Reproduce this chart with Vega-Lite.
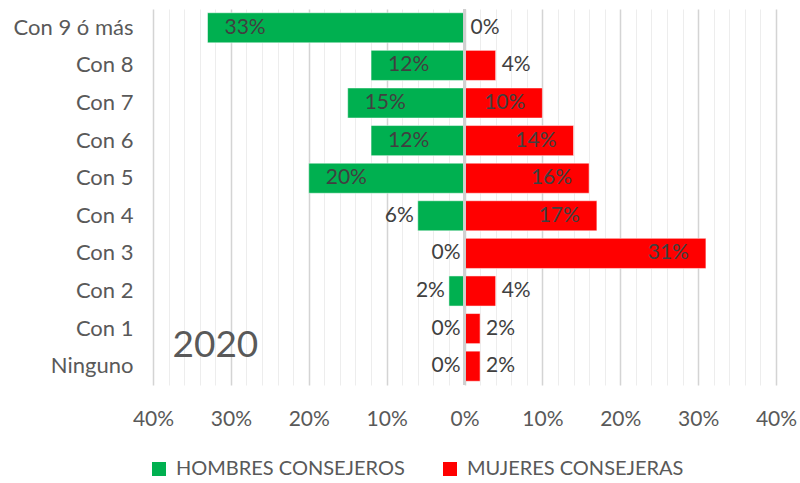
{
  "$schema": "https://vega.github.io/schema/vega-lite/v6.json",
  "width": 623,
  "height": 376,
  "autosize": {"type": "none"},
  "padding": {"left": 153, "top": 9, "right": 24, "bottom": 98},
  "background": "white",
  "config": {"view": {"stroke": null}, "font": "Lato"},
  "data": {
    "values": [
      {"cat": "Con 9 ó más", "sexo": "HOMBRES CONSEJEROS", "v": -0.33},
      {"cat": "Con 8", "sexo": "HOMBRES CONSEJEROS", "v": -0.12},
      {"cat": "Con 7", "sexo": "HOMBRES CONSEJEROS", "v": -0.15},
      {"cat": "Con 6", "sexo": "HOMBRES CONSEJEROS", "v": -0.12},
      {"cat": "Con 5", "sexo": "HOMBRES CONSEJEROS", "v": -0.20},
      {"cat": "Con 4", "sexo": "HOMBRES CONSEJEROS", "v": -0.06},
      {"cat": "Con 3", "sexo": "HOMBRES CONSEJEROS", "v": 0},
      {"cat": "Con 2", "sexo": "HOMBRES CONSEJEROS", "v": -0.02},
      {"cat": "Con 1", "sexo": "HOMBRES CONSEJEROS", "v": 0},
      {"cat": "Ninguno", "sexo": "HOMBRES CONSEJEROS", "v": 0},
      {"cat": "Con 9 ó más", "sexo": "MUJERES CONSEJERAS", "v": 0},
      {"cat": "Con 8", "sexo": "MUJERES CONSEJERAS", "v": 0.04},
      {"cat": "Con 7", "sexo": "MUJERES CONSEJERAS", "v": 0.10},
      {"cat": "Con 6", "sexo": "MUJERES CONSEJERAS", "v": 0.14},
      {"cat": "Con 5", "sexo": "MUJERES CONSEJERAS", "v": 0.16},
      {"cat": "Con 4", "sexo": "MUJERES CONSEJERAS", "v": 0.17},
      {"cat": "Con 3", "sexo": "MUJERES CONSEJERAS", "v": 0.31},
      {"cat": "Con 2", "sexo": "MUJERES CONSEJERAS", "v": 0.04},
      {"cat": "Con 1", "sexo": "MUJERES CONSEJERAS", "v": 0.02},
      {"cat": "Ninguno", "sexo": "MUJERES CONSEJERAS", "v": 0.02}
    ]
  },
  "layer": [
    {
      "transform": [{"calculate": "format(abs(datum.v), '.0%')", "as": "lab"}],
      "encoding": {
        "y": {
          "field": "cat",
          "type": "nominal",
          "sort": ["Con 9 ó más", "Con 8", "Con 7", "Con 6", "Con 5", "Con 4", "Con 3", "Con 2", "Con 1", "Ninguno"],
          "scale": {"paddingInner": 0.2, "paddingOuter": 0.1},
          "axis": {
            "title": null,
            "ticks": false,
            "domain": false,
            "labelPadding": 20,
            "labelFontSize": 22,
            "labelColor": "#595959",
            "labelFont": "Lato",
            "labelLimit": 300
          }
        },
        "x": {
          "field": "v",
          "type": "quantitative",
          "scale": {"domain": [-0.4, 0.4], "nice": false, "zero": false},
          "axis": {
            "title": null,
            "values": [-0.4, -0.38, -0.36, -0.34, -0.32, -0.3, -0.28, -0.26, -0.24, -0.22, -0.2, -0.18, -0.16, -0.14, -0.12, -0.1, -0.08, -0.06, -0.04, -0.02, 0, 0.02, 0.04, 0.06, 0.08, 0.1, 0.12, 0.14, 0.16, 0.18, 0.2, 0.22, 0.24, 0.26, 0.28, 0.3, 0.32, 0.34, 0.36, 0.38, 0.4],
            "tickCount": 200,
            "labelExpr": "abs(round(datum.value*100)) % 10 == 0 ? format(abs(datum.value), '.0%') : ''",
            "ticks": false,
            "domain": false,
            "labelPadding": 23,
            "labelFontSize": 21,
            "labelColor": "#595959",
            "labelFont": "Lato",
            "labelOverlap": false,
            "labelFlush": false,
            "grid": true,
            "gridColor": {"condition": {"test": "abs(round(datum.value*100)) % 10 == 0", "value": "#D4D4D4"}, "value": "#EDEDED"},
            "gridWidth": {"condition": {"test": "abs(round(datum.value*100)) % 10 == 0", "value": 1.5}, "value": 1}
          }
        }
      },
      "layer": [
        {
          "mark": {"type": "bar", "stroke": "white", "strokeWidth": 0.5},
          "encoding": {
            "color": {
              "field": "sexo",
              "type": "nominal",
              "sort": ["HOMBRES CONSEJEROS", "MUJERES CONSEJERAS"],
              "scale": {"domain": ["HOMBRES CONSEJEROS", "MUJERES CONSEJERAS"], "range": ["#00B050", "#FF0000"]},
              "legend": {
                "title": null,
                "orient": "none",
                "direction": "horizontal",
                "legendX": -4,
                "legendY": 450,
                "symbolType": "square",
                "symbolSize": 196,
                "symbolStrokeWidth": 0,
                "labelFontSize": 20,
                "labelColor": "#595959",
                "labelFont": "Lato",
                "labelLimit": 400,
                "labelOffset": 7,
                "columnPadding": 35
              }
            }
          }
        },
        {
          "transform": [{"filter": "datum.v <= -0.1"}],
          "mark": {"type": "text", "align": "left", "baseline": "middle", "dx": 17, "fontSize": 21, "color": "#404040"},
          "encoding": {"text": {"field": "lab"}}
        },
        {
          "transform": [{"filter": "datum.sexo == 'HOMBRES CONSEJEROS' && datum.v > -0.1"}],
          "mark": {"type": "text", "align": "right", "baseline": "middle", "dx": -4, "fontSize": 21, "color": "#404040"},
          "encoding": {"text": {"field": "lab"}}
        },
        {
          "transform": [{"filter": "datum.v >= 0.1"}],
          "mark": {"type": "text", "align": "right", "baseline": "middle", "dx": -17, "fontSize": 21, "color": "#404040"},
          "encoding": {"text": {"field": "lab"}}
        },
        {
          "transform": [{"filter": "datum.sexo == 'MUJERES CONSEJERAS' && datum.v < 0.1"}],
          "mark": {"type": "text", "align": "left", "baseline": "middle", "dx": 6, "fontSize": 21, "color": "#404040"},
          "encoding": {"text": {"field": "lab"}}
        }
      ]
    },
    {
      "mark": {"type": "rule", "color": "#D0D0D0", "strokeWidth": 1.5},
      "encoding": {"x": {"datum": 0}}
    },
    {
      "data": {"values": [{"t": "2020"}]},
      "mark": {"type": "text", "align": "left", "baseline": "middle", "fontSize": 37, "color": "#595959", "dy": 17},
      "encoding": {
        "x": {"datum": -0.375},
        "y": {"datum": "Con 1"},
        "text": {"field": "t"}
      }
    }
  ]
}
